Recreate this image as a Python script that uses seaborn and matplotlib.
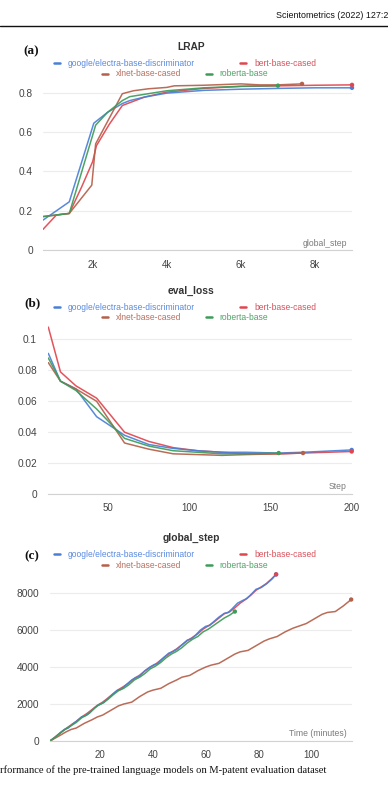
import matplotlib
matplotlib.use("Agg")
import matplotlib.pyplot as plt
import seaborn as sns
import pandas as pd
from matplotlib.lines import Line2D

# ---------------- data ----------------
models = ["google/electra-base-discriminator", "bert-base-cased",
          "xlnet-base-cased", "roberta-base"]
draw_order = ["bert-base-cased", "google/electra-base-discriminator",
              "xlnet-base-cased", "roberta-base"]

# (a) LRAP vs global_step
lrap_electra_x = [659, 1368, 2030, 2400, 2800, 3000, 3400, 4000, 5000, 6000, 7000, 8000, 8999]
lrap_electra_y = [0.152, 0.245, 0.645, 0.700, 0.745, 0.760, 0.778, 0.798, 0.812, 0.818, 0.822, 0.825, 0.825]
lrap_bert_x = [659, 1020, 1368, 1700, 2000, 2100, 2450, 2800, 3400, 4000, 5000, 6000, 7000, 8000, 8999]
lrap_bert_y = [0.105, 0.178, 0.186, 0.320, 0.450, 0.530, 0.640, 0.735, 0.778, 0.803, 0.822, 0.832, 0.835, 0.838, 0.840]
lrap_xlnet_x = [659, 1368, 1976, 2080, 2800, 3100, 3500, 4000, 4200, 5000, 6000, 6500, 7000, 7650]
lrap_xlnet_y = [0.170, 0.186, 0.330, 0.540, 0.795, 0.810, 0.820, 0.827, 0.835, 0.838, 0.845, 0.840, 0.840, 0.845]
lrap_roberta_x = [659, 1368, 2080, 2400, 2800, 3000, 4000, 5000, 6000, 7000]
lrap_roberta_y = [0.170, 0.186, 0.635, 0.700, 0.760, 0.780, 0.810, 0.825, 0.833, 0.836]

# (b) eval_loss vs Step
loss_electra_x = [13, 20.5, 30, 42.8, 50, 60, 75, 90, 105, 120, 135, 155, 170, 200]
loss_electra_y = [0.091, 0.073, 0.068, 0.050, 0.045, 0.038, 0.032, 0.0295, 0.028, 0.027, 0.027, 0.0265, 0.027, 0.0285]
loss_bert_x = [13, 20.5, 30, 42.8, 60, 75, 90, 105, 120, 135, 155, 170, 200]
loss_bert_y = [0.108, 0.079, 0.070, 0.062, 0.040, 0.034, 0.030, 0.028, 0.027, 0.026, 0.026, 0.0265, 0.0275]
loss_xlnet_x = [13, 20.5, 30, 42.8, 60, 75, 90, 105, 120, 135, 155, 170]
loss_xlnet_y = [0.085, 0.073, 0.068, 0.060, 0.033, 0.029, 0.026, 0.0255, 0.025, 0.0255, 0.026, 0.0265]
loss_roberta_x = [13, 20.5, 30, 42.8, 60, 75, 90, 105, 120, 135, 155]
loss_roberta_y = [0.088, 0.073, 0.067, 0.055, 0.036, 0.031, 0.028, 0.027, 0.026, 0.026, 0.0265]

# (c) global_step vs Time (minutes)
gs_electra_t = [1.1, 3, 5, 6.5, 8, 9.5, 11, 13, 14.5, 16, 18, 19.5, 21.5, 23, 25, 26.5, 28, 30, 32, 33.5,
                35, 37, 39, 40.5, 42, 44, 46, 47.5, 49, 51, 53, 54.5, 56, 58, 60, 61.5, 63, 65, 67, 68.5,
                70, 72, 74, 75.5, 77, 79, 81, 83, 85, 86.6]
gs_electra_s = [0, 200, 450, 620, 700, 900, 1050, 1300, 1380, 1500, 1800, 1950, 2080, 2300, 2550, 2740, 2800,
                3050, 3300, 3430, 3500, 3800, 4000, 4130, 4200, 4500, 4750, 4830, 4950, 5200, 5450, 5520, 5700,
                6000, 6200, 6250, 6450, 6700, 6900, 6950, 7150, 7450, 7600, 7700, 7900, 8200, 8300, 8500, 8750, 9010]
gs_bert_t = [1.1, 3, 5, 7, 9, 11, 13, 15, 17, 19, 21, 23, 25, 27, 29, 31, 33, 35, 37, 39, 41, 43, 45, 47, 49,
             51, 53, 55, 57, 59, 61, 63, 65, 67, 69, 71, 73, 75, 77, 79, 81, 83, 85, 86.6]
gs_bert_s = [0, 210, 440, 660, 860, 1060, 1290, 1480, 1700, 1930, 2100, 2320, 2560, 2780, 2950, 3150, 3380,
             3560, 3790, 4000, 4150, 4380, 4600, 4800, 4980, 5200, 5430, 5600, 5800, 6050, 6230, 6420, 6650,
             6880, 6980, 7200, 7450, 7650, 7880, 8150, 8330, 8520, 8780, 9010]
gs_xlnet_t = [1.1, 4, 7, 9, 11, 14, 17, 19, 21, 24, 27, 29, 32, 35, 38, 40, 43, 46, 49, 51, 54, 57, 60, 62,
              65, 68, 71, 73, 76, 79, 82, 84, 87, 90, 93, 95, 98, 101, 104, 106, 109, 112, 115]
gs_xlnet_s = [0, 230, 480, 620, 700, 950, 1150, 1300, 1400, 1650, 1900, 2000, 2100, 2400, 2650, 2750, 2850,
              3100, 3300, 3450, 3550, 3800, 4000, 4100, 4200, 4450, 4700, 4820, 4900, 5150, 5400, 5520, 5650,
              5900, 6100, 6200, 6350, 6600, 6850, 6950, 7000, 7300, 7650]
gs_roberta_t = [1.1, 3, 5, 7, 9, 11, 13, 15, 17, 19, 21, 23, 25, 27, 29, 31, 33, 35, 37, 39, 41, 43, 45, 47,
                49, 51, 53, 55, 57, 59, 61, 63, 65, 67, 69, 71]
gs_roberta_s = [0, 200, 430, 650, 820, 1000, 1250, 1400, 1650, 1900, 2050, 2250, 2500, 2720, 2850, 3050, 3300,
                3450, 3650, 3900, 4050, 4250, 4500, 4700, 4850, 5050, 5300, 5500, 5650, 5900, 6050, 6250,
                6450, 6650, 6800, 7000]

lrap_xticks = [2000, 4000, 6000, 8000]
lrap_xticklabels = ["2k", "4k", "6k", "8k"]
lrap_yticks = [0, 0.2, 0.4, 0.6, 0.8]
lrap_yticklabels = ["0", "0.2", "0.4", "0.6", "0.8"]
loss_xticks = [50, 100, 150, 200]
loss_yticks = [0, 0.02, 0.04, 0.06, 0.08, 0.1]
loss_yticklabels = ["0", "0.02", "0.04", "0.06", "0.08", "0.1"]
gs_xticks = [20, 40, 60, 80, 100]
gs_yticks = [0, 2000, 4000, 6000, 8000]

line_colors = {"google/electra-base-discriminator": "#4a7fd8",
               "bert-base-cased": "#e0464f",
               "xlnet-base-cased": "#b4604a",
               "roberta-base": "#3d9c5a"}
text_colors = {"google/electra-base-discriminator": "#5a8ae0",
               "bert-base-cased": "#d9525c",
               "xlnet-base-cased": "#b87060",
               "roberta-base": "#4fa267"}

# ---------------- style ----------------
sns.set_theme(style="white")
plt.rcParams["font.family"] = ["Liberation Sans", "DejaVu Sans"]

W, H = 388, 792
fig = plt.figure(figsize=(W / 100, H / 100), dpi=100)


def axes_px(left, right, bottom, top):
    return fig.add_axes([left / W, 1 - bottom / H, (right - left) / W, (bottom - top) / H])


def long_df(series):
    rows = []
    for name, xs, ys in series:
        for xv, yv in zip(xs, ys):
            rows.append({"model": name, "x": xv, "y": yv})
    return pd.DataFrame(rows)


def draw(ax, df):
    sns.lineplot(data=df, x="x", y="y", hue="model", hue_order=draw_order,
                 palette=line_colors, estimator=None, sort=False, lw=1.1,
                 alpha=0.92, legend=False, ax=ax)
    ends = df.groupby("model", sort=False).tail(1).copy()
    ends["order"] = ends["model"].map({m: i for i, m in enumerate(
        ["roberta-base", "xlnet-base-cased", "google/electra-base-discriminator", "bert-base-cased"])})
    ends = ends.sort_values("order")
    sns.scatterplot(data=ends, x="x", y="y", hue="model", palette=line_colors,
                    s=10, linewidth=0, legend=False, ax=ax, clip_on=False, zorder=5)


def style(ax, xlim, ylim, xticks, xticklabels, yticks, yticklabels, xlabel,
          ypad, xpad, label_dy_px):
    ax.set_xlim(*xlim)
    ax.set_ylim(*ylim)
    ax.set_xticks(xticks)
    ax.set_xticklabels(xticklabels)
    ax.set_yticks(yticks)
    ax.set_yticklabels(yticklabels)
    ax.grid(axis="y", color="#ececec", lw=0.8)
    ax.grid(axis="x", visible=False)
    for s in ["top", "right", "left"]:
        ax.spines[s].set_visible(False)
    ax.spines["bottom"].set_color("#d2d2d2")
    ax.spines["bottom"].set_linewidth(0.8)
    ax.tick_params(axis="y", length=0, pad=ypad, labelsize=7.3, labelcolor="#444444")
    ax.tick_params(axis="x", direction="inout", length=7.2, width=0.6, color="#dcdcdc",
                   pad=xpad, labelsize=7.0, labelcolor="#444444")
    ax.set_ylabel("")
    ax.set_xlabel(xlabel, fontsize=6.2, color="#7a7a7a", ha="right", va="center")
    bb = ax.get_position()
    wpx = bb.width * W
    hpx = bb.height * H
    ax.xaxis.set_label_coords(1 - 5.3 / wpx, label_dy_px / hpx)


def legends(y1_px, y2_px):
    h = {m: Line2D([], [], color=line_colors[m], lw=1.8) for m in models}
    row1 = [models[0], models[1]]
    row2 = [models[2], models[3]]
    for row, ypx, cs in [(row1, y1_px, 5.3), (row2, y2_px, 2.9)]:
        lg = fig.legend([h[m] for m in row], row, loc="center", ncol=2,
                        bbox_to_anchor=(185 / W, 1 - ypx / H), frameon=False,
                        fontsize=6.15, handlelength=0.7, handletextpad=0.95,
                        columnspacing=cs, borderpad=0, borderaxespad=0)
        for t, m in zip(lg.get_texts(), row):
            t.set_color(text_colors[m])


# ---------------- header ----------------
fig.text(276 / W, 1 - 15 / H, "Scientometrics (2022) 127:2", fontsize=6.4,
         color="#111111", ha="left", va="center")
fig.add_artist(Line2D([0, 1], [1 - 26 / H, 1 - 26 / H], transform=fig.transFigure,
                      color="#111111", lw=1.0))

# ---------------- (a) LRAP ----------------
ax_a = axes_px(43, 352, 250, 77)
df_a = long_df([(models[0], lrap_electra_x, lrap_electra_y),
                (models[1], lrap_bert_x, lrap_bert_y),
                (models[2], lrap_xlnet_x, lrap_xlnet_y),
                (models[3], lrap_roberta_x, lrap_roberta_y)])
draw(ax_a, df_a)
style(ax_a, (659, 8999), (0, 0.88), lrap_xticks, lrap_xticklabels, lrap_yticks,
      lrap_yticklabels, "global_step", 7.2, 3.4, 7)
fig.text(191.5 / W, 1 - 47 / H, "LRAP", fontsize=7.4, fontweight="bold",
         color="#333333", ha="center", va="center")
fig.text(23 / W, 1 - 51 / H, "(a)", family="Liberation Serif", fontweight="bold",
         fontsize=9.5, ha="left", va="center", color="#111111")
legends(63.5, 74)

# ---------------- (b) eval_loss ----------------
ax_b = axes_px(48.3, 351.7, 494, 324)
df_b = long_df([(models[0], loss_electra_x, loss_electra_y),
                (models[1], loss_bert_x, loss_bert_y),
                (models[2], loss_xlnet_x, loss_xlnet_y),
                (models[3], loss_roberta_x, loss_roberta_y)])
draw(ax_b, df_b)
style(ax_b, (13, 200), (0, 0.11), loss_xticks, [str(v) for v in loss_xticks],
      loss_yticks, loss_yticklabels, "Step", 8.1, 2.7, 7.3)
fig.text(191 / W, 1 - 290.7 / H, "eval_loss", fontsize=7.4, fontweight="bold",
         color="#333333", ha="center", va="center")
fig.text(24 / W, 1 - 303 / H, "(b)", family="Liberation Serif", fontweight="bold",
         fontsize=9.5, ha="left", va="center", color="#111111")
legends(307.3, 317.7)

# ---------------- (c) global_step ----------------
ax_c = axes_px(50, 351.7, 741, 569)
df_c = long_df([(models[0], gs_electra_t, gs_electra_s),
                (models[1], gs_bert_t, gs_bert_s),
                (models[2], gs_xlnet_t, gs_xlnet_s),
                (models[3], gs_roberta_t, gs_roberta_s)])
draw(ax_c, df_c)
style(ax_c, (1.1, 115.2), (0, 9300), gs_xticks, [str(v) for v in gs_xticks],
      gs_yticks, [str(v) for v in gs_yticks], "Time (minutes)", 7.9, 2.7, 7.7)
fig.text(191.7 / W, 1 - 538.3 / H, "global_step", fontsize=7.4, fontweight="bold",
         color="#333333", ha="center", va="center")
fig.text(24 / W, 1 - 556.7 / H, "(c)", family="Liberation Serif", fontweight="bold",
         fontsize=9.5, ha="left", va="center", color="#111111")
legends(554.3, 565)

# ---------------- caption ----------------
fig.text(0, 1 - 770 / H,
         "rformance of the pre-trained language models on M-patent evaluation dataset",
         family="Liberation Serif", fontsize=7.55, color="#111111", ha="left", va="center")

fig.savefig("out.png", dpi=100)
